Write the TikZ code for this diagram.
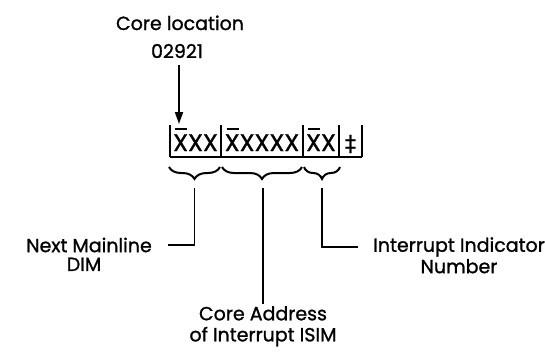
\documentclass[tikz,border=0pt]{standalone}
\usepackage{fontspec}
\setmainfont{Poppins}[FakeBold=1.2]
\newfontfamily\symfont{DejaVu Sans}[FakeBold=1.2]
\usepackage{tikz}
\usetikzlibrary{arrows.meta,positioning,decorations.pathreplacing}

\newcommand{\barx}{\makebox[0pt][l]{\hspace{0.08em}\rule[0.88em]{0.5em}{0.07em}}X}

\begin{document}
\begin{tikzpicture}[
    x=1pt, y=-1pt,
    label text/.style={font=\fontsize{19}{22}\selectfont, inner sep=0pt},
    field text/.style={font=\fontsize{24}{28}\selectfont, inner sep=0pt, anchor=base},
    rule line/.style={line width=1.8pt},
    leader/.style={line width=1.8pt},
    field brace/.style={line width=2pt, decorate, decoration={brace, mirror, amplitude=12pt}},
    arrow/.style={-{Triangle[length=12pt,width=8pt]}, line width=1.8pt}
]
    \useasboundingbox (0,0) rectangle (545,354);

    % Core location
    \node[label text, anchor=base] (loc) at (180,30) {Core location};
    \node[label text, anchor=base] (num) at (177,58) {02921};
    \coordinate (core) at (179,124);
    \draw[arrow, shorten <=7pt] (num.south -| core) -- (core);

    % Fields of the word
    \foreach \x in {170,221,303,339,362} {
        \draw[rule line] (\x,125) -- (\x,157);
    }
    \draw[rule line] (170,157) -- (362,157);
    \node[field text] (f1) at (195.5,151) {\barx XX};
    \node[field text] (f2) at (262,151) {\barx XXXX};
    \node[field text] (f3) at (321,151) {\barx X};
    \node[field text, font=\symfont\fontsize{22}{26}\selectfont] (f4) at (350.5,151) {‡};

    % Braces
    \foreach \a/\b/\i in {169/220/1, 222/302/2, 304/340/3} {
        \draw[field brace] (\a,167) -- (\b,167);
        \coordinate (tip\i) at ({(\a+\b)/2},188);
    }

    % Labels
    \node[label text, anchor=east] (mainline) at (152,245) {Next Mainline};
    \node[label text, below=5pt of mainline, xshift=-5pt] (dim) {DIM};
    \node[label text, anchor=west] (intr) at (373,247) {Interrupt Indicator};
    \node[label text, below=2pt of intr] (numb) {Number};
    \node[label text, anchor=north] (addr) at (263,306) {Core Address};
    \node[label text, below=6pt of addr] (isim) {of Interrupt ISIM};

    % Leaders
    \draw[leader, shorten >=16pt] (tip1) |- (mainline.east);
    \draw[leader, shorten >=2pt] (tip2 -| addr) -- (addr.north);
    \draw[leader, shorten >=15pt] (tip3) |- (intr.west);
\end{tikzpicture}
\end{document}
